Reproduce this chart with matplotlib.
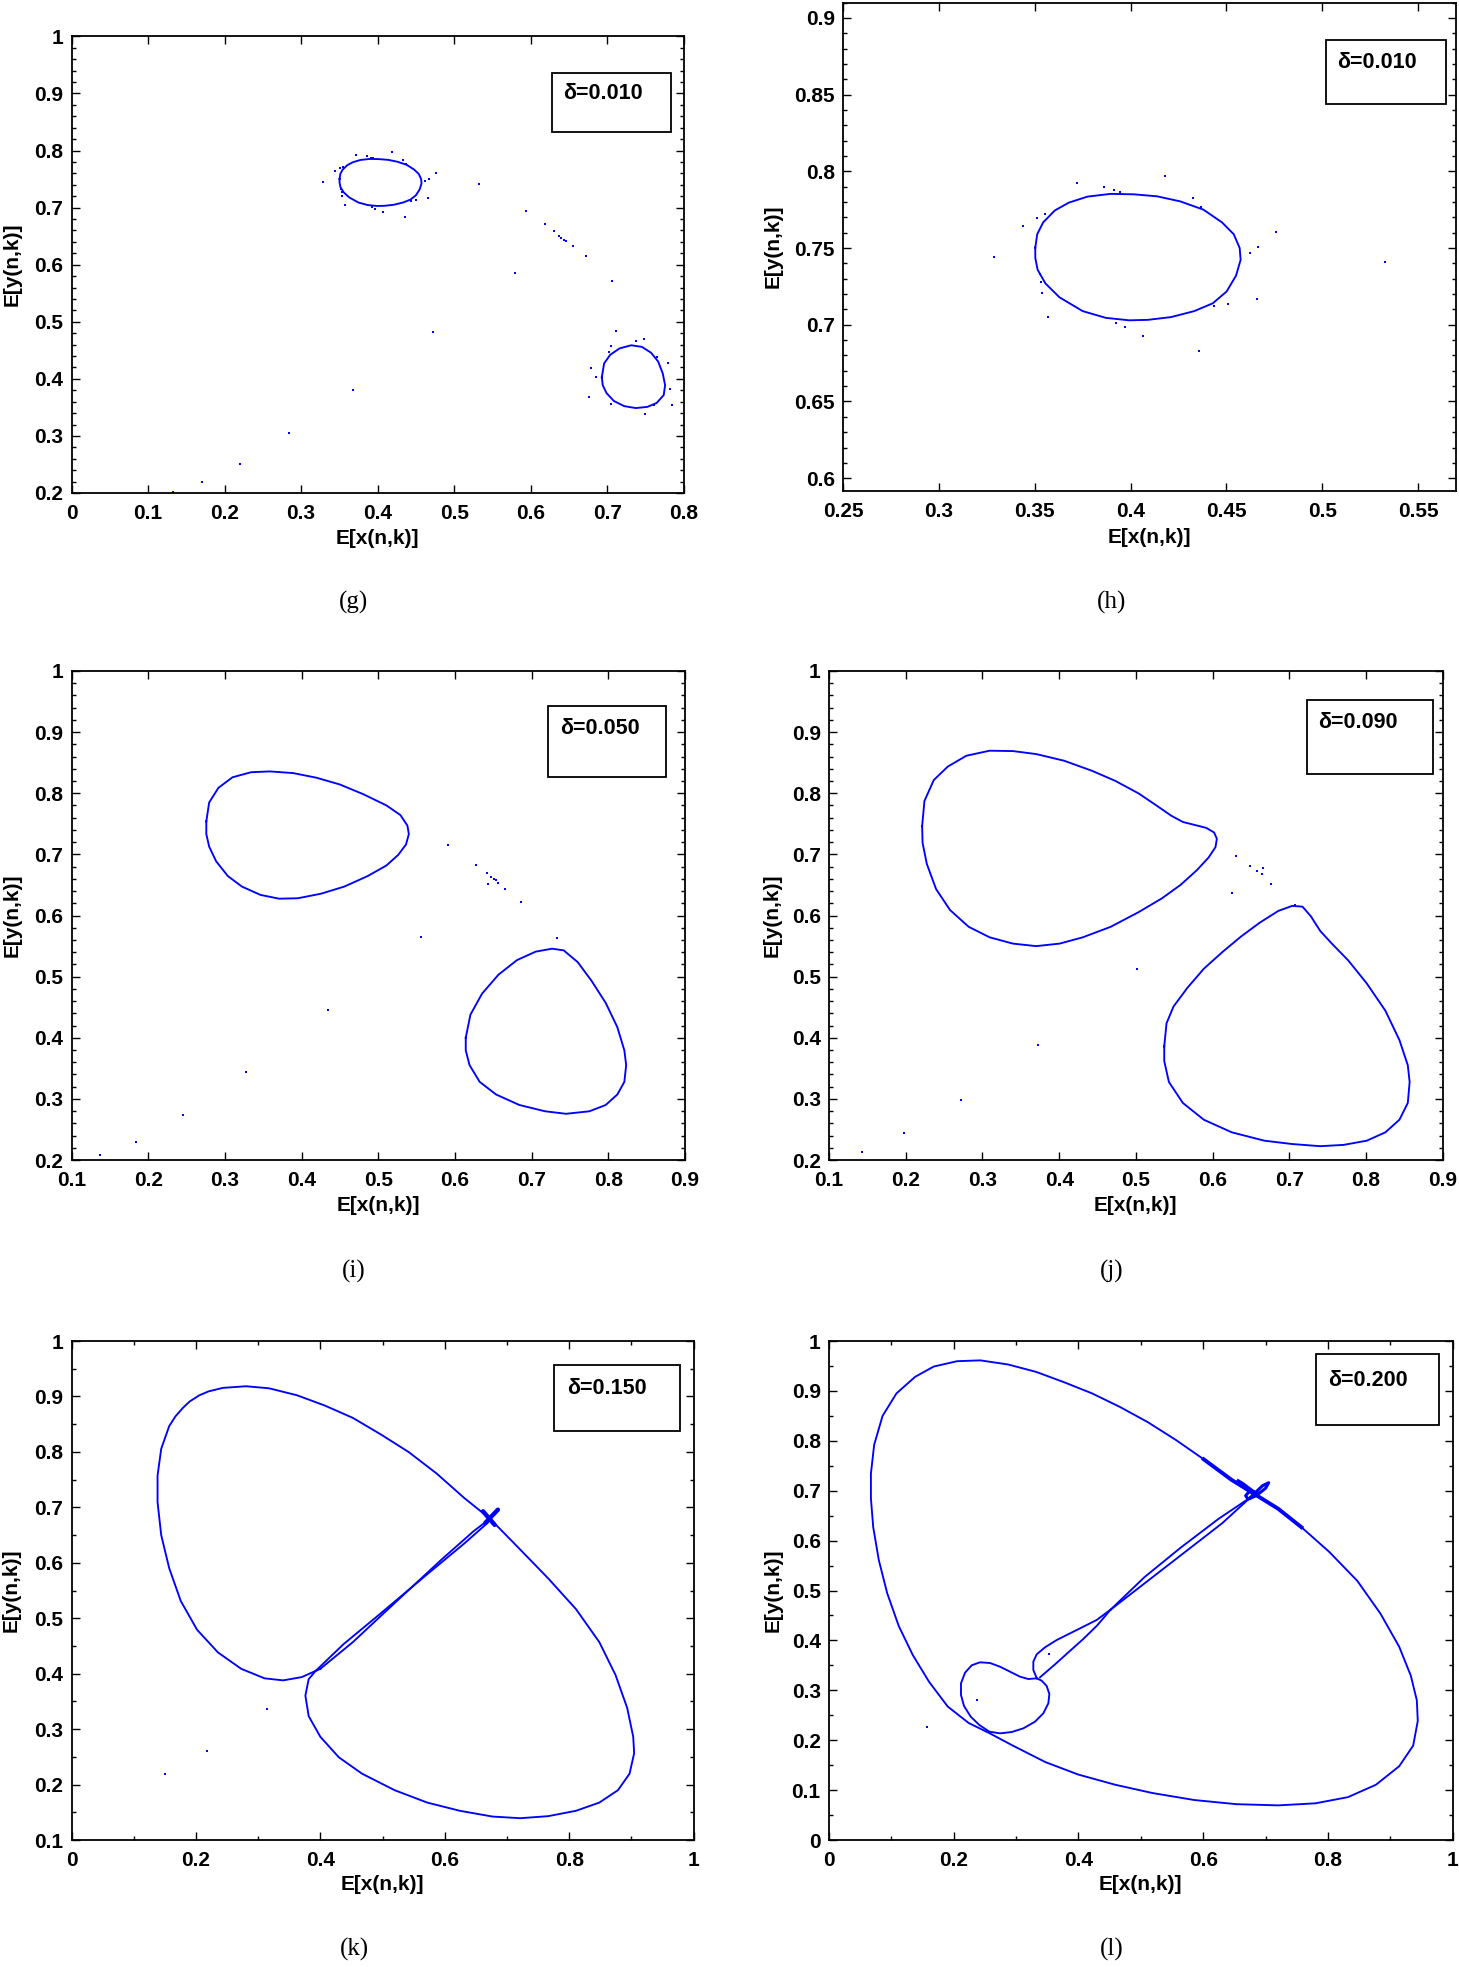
import numpy as np
import matplotlib
matplotlib.use('Agg')
import matplotlib.pyplot as plt
from matplotlib.patches import Rectangle
from matplotlib.ticker import MultipleLocator, FuncFormatter

plt.rcParams['font.family'] = ['Liberation Sans', 'DejaVu Sans']
plt.rcParams['font.weight'] = 'bold'

BLUE = (0, 0, 1)

# ---- delta = 0.010 (panels g and h show the same orbit) ----
d010_loop1 = [(0.3503, 0.7503), (0.3513, 0.7590), (0.3544, 0.7667), (0.3605, 0.7745),
              (0.3678, 0.7796), (0.3775, 0.7835), (0.3896, 0.7853), (0.4017, 0.7850),
              (0.4138, 0.7837), (0.4259, 0.7804), (0.4380, 0.7750), (0.4477, 0.7667),
              (0.4538, 0.7590), (0.4569, 0.7500), (0.4574, 0.7423), (0.4550, 0.7320),
              (0.4501, 0.7217), (0.4429, 0.7140), (0.4332, 0.7089), (0.4211, 0.7050),
              (0.4090, 0.7032), (0.3993, 0.7029), (0.3871, 0.7045), (0.3750, 0.7089),
              (0.3629, 0.7179), (0.3556, 0.7269), (0.3515, 0.7359), (0.3503, 0.7436)]
d010_loop2 = [(0.6930, 0.4028), (0.6960, 0.4270), (0.7040, 0.4422), (0.7161, 0.4533),
              (0.7313, 0.4588), (0.7453, 0.4561), (0.7574, 0.4457), (0.7666, 0.4304),
              (0.7726, 0.4097), (0.7757, 0.3889), (0.7739, 0.3716), (0.7647, 0.3578),
              (0.7526, 0.3509), (0.7374, 0.3488), (0.7222, 0.3522), (0.7088, 0.3612),
              (0.6991, 0.3751), (0.6942, 0.3889)]
d010_dots = [(0.3721, 0.7925), (0.3859, 0.7899), (0.3915, 0.7878), (0.3944, 0.7863),
             (0.4182, 0.7971), (0.4327, 0.7827), (0.4368, 0.7768), (0.4758, 0.7606),
             (0.4666, 0.7508), (0.4623, 0.7469), (0.5325, 0.7410), (0.4659, 0.7171),
             (0.4506, 0.7137), (0.4436, 0.7124), (0.4356, 0.6831), (0.4065, 0.6929),
             (0.3971, 0.6983), (0.3922, 0.7011), (0.3569, 0.7052), (0.3537, 0.7209),
             (0.3532, 0.7276), (0.3527, 0.7333), (0.3440, 0.7644), (0.3513, 0.7693),
             (0.3552, 0.7719), (0.3288, 0.7444),
             (0.7119, 0.4844), (0.7477, 0.4706), (0.7380, 0.4671), (0.7052, 0.4581),
             (0.7027, 0.4478), (0.6784, 0.4187), (0.6857, 0.4028), (0.7647, 0.4388),
             (0.7799, 0.4284), (0.7818, 0.3820), (0.7842, 0.3550), (0.7617, 0.3543),
             (0.7489, 0.3384), (0.7052, 0.3564), (0.6766, 0.3682),
             (0.1325, 0.2014), (0.1708, 0.2194), (0.2207, 0.2512), (0.2845, 0.3045),
             (0.3684, 0.3806), (0.4729, 0.4817), (0.5933, 0.6948), (0.6188, 0.6706),
             (0.6310, 0.6588), (0.6371, 0.6505), (0.6401, 0.6471), (0.6432, 0.6429),
             (0.6462, 0.6415), (0.6553, 0.6325), (0.6723, 0.6152), (0.5793, 0.5862),
             (0.7058, 0.5723)]

# ---- delta = 0.050 ----
d050_loop1 = [(0.2758, 0.7540), (0.2795, 0.7849), (0.2916, 0.8089), (0.3099, 0.8261),
              (0.3342, 0.8344), (0.3586, 0.8357), (0.3890, 0.8330), (0.4194, 0.8254),
              (0.4498, 0.8144), (0.4802, 0.7986), (0.5106, 0.7801), (0.5289, 0.7643),
              (0.5380, 0.7471), (0.5399, 0.7333), (0.5362, 0.7162), (0.5259, 0.6990),
              (0.5106, 0.6818), (0.4863, 0.6646), (0.4559, 0.6474), (0.4255, 0.6357),
              (0.3951, 0.6282), (0.3707, 0.6275), (0.3464, 0.6337), (0.3221, 0.6474),
              (0.3038, 0.6646), (0.2886, 0.6887), (0.2795, 0.7127), (0.2758, 0.7333)]
d050_loop2 = [(0.6141, 0.4000), (0.6202, 0.4378), (0.6354, 0.4722), (0.6567, 0.5031),
              (0.6810, 0.5271), (0.7053, 0.5409), (0.7266, 0.5457), (0.7418, 0.5430),
              (0.7601, 0.5237), (0.7783, 0.4928), (0.7966, 0.4570), (0.8118, 0.4172),
              (0.8209, 0.3794), (0.8233, 0.3553), (0.8209, 0.3278), (0.8118, 0.3072),
              (0.7966, 0.2900), (0.7753, 0.2797), (0.7449, 0.2756), (0.7175, 0.2797),
              (0.6840, 0.2900), (0.6536, 0.3072), (0.6323, 0.3278), (0.6190, 0.3553),
              (0.6141, 0.3794)]
d050_dots = [(0.1371, 0.2076), (0.1840, 0.2302), (0.2460, 0.2742), (0.3275, 0.3443),
             (0.4346, 0.4460), (0.5563, 0.5656), (0.5916, 0.7148), (0.6275, 0.6825),
             (0.6415, 0.6701), (0.6475, 0.6632), (0.6506, 0.6598), (0.6536, 0.6577),
             (0.6567, 0.6529), (0.6433, 0.6522), (0.6658, 0.6440), (0.6859, 0.6220),
             (0.7333, 0.5636)]

# ---- delta = 0.090 ----
d090_loop1 = [(0.2214, 0.7461), (0.2244, 0.7873), (0.2366, 0.8216), (0.2548, 0.8436),
              (0.2791, 0.8614), (0.3094, 0.8696), (0.3398, 0.8690), (0.3701, 0.8641),
              (0.4065, 0.8532), (0.4429, 0.8367), (0.4733, 0.8202), (0.5036, 0.7997),
              (0.5279, 0.7791), (0.5461, 0.7633), (0.5613, 0.7530), (0.5765, 0.7482),
              (0.5917, 0.7434), (0.6020, 0.7358), (0.6056, 0.7256), (0.6038, 0.7118),
              (0.5947, 0.6947), (0.5795, 0.6741), (0.5583, 0.6501), (0.5340, 0.6281),
              (0.5036, 0.6055), (0.4672, 0.5815), (0.4308, 0.5643), (0.4005, 0.5540),
              (0.3701, 0.5499), (0.3398, 0.5540), (0.3094, 0.5643), (0.2821, 0.5815),
              (0.2578, 0.6089), (0.2396, 0.6432), (0.2275, 0.6844), (0.2220, 0.7187)]
d090_loop2 = [(0.5370, 0.3859), (0.5400, 0.4237), (0.5491, 0.4511), (0.5674, 0.4820),
              (0.5886, 0.5129), (0.6129, 0.5403), (0.6372, 0.5657), (0.6615, 0.5883),
              (0.6857, 0.6075), (0.7039, 0.6158), (0.7173, 0.6144), (0.7282, 0.5986),
              (0.7404, 0.5746), (0.7555, 0.5540), (0.7768, 0.5266), (0.8010, 0.4889),
              (0.8253, 0.4442), (0.8436, 0.3962), (0.8545, 0.3551), (0.8569, 0.3276),
              (0.8545, 0.2933), (0.8436, 0.2659), (0.8253, 0.2453), (0.8010, 0.2316),
              (0.7707, 0.2247), (0.7404, 0.2226), (0.7039, 0.2261), (0.6675, 0.2316),
              (0.6250, 0.2453), (0.5886, 0.2659), (0.5613, 0.2933), (0.5431, 0.3276),
              (0.5370, 0.3619)]
d090_dots = [(0.1425, 0.2123), (0.1977, 0.2439), (0.2718, 0.2988), (0.3725, 0.3880),
             (0.5018, 0.5129), (0.6311, 0.6981), (0.6493, 0.6803), (0.6584, 0.6720),
             (0.6645, 0.6672), (0.6663, 0.6775), (0.6766, 0.6521), (0.6250, 0.6364),
             (0.7070, 0.6171)]

# ---- delta = 0.150 ----
d150_upper = [(0.6726, 0.6795), (0.6315, 0.7166), (0.5867, 0.7611), (0.5419, 0.7997),
              (0.4970, 0.8316), (0.4522, 0.8613), (0.4073, 0.8835), (0.3625, 0.9021),
              (0.3176, 0.9147), (0.2803, 0.9184), (0.2429, 0.9154), (0.2200, 0.9090),
              (0.2055, 0.9021), (0.1900, 0.8910), (0.1794, 0.8798), (0.1670, 0.8640),
              (0.1570, 0.8464), (0.1442, 0.8056), (0.1383, 0.7574),
              (0.1383, 0.7092), (0.1442, 0.6498), (0.1570, 0.5904), (0.1756, 0.5311),
              (0.2018, 0.4792), (0.2354, 0.4383), (0.2728, 0.4087), (0.3102, 0.3916),
              (0.3401, 0.3879), (0.3700, 0.3938), (0.3999, 0.4087)]
d150_diag_a = [(0.3999, 0.4087), (0.4522, 0.4569), (0.5194, 0.5274), (0.5942, 0.6053),
               (0.6465, 0.6572), (0.6726, 0.6795)]
d150_lower = [(0.6726, 0.6795), (0.7212, 0.6238), (0.7661, 0.5719), (0.8109, 0.5163),
              (0.8483, 0.4569), (0.8744, 0.3975), (0.8931, 0.3382), (0.9028, 0.2862),
              (0.9043, 0.2566), (0.8969, 0.2195), (0.8782, 0.1898), (0.8483, 0.1675),
              (0.8109, 0.1527), (0.7661, 0.1430), (0.7212, 0.1393), (0.6764, 0.1423),
              (0.6241, 0.1527), (0.5717, 0.1675), (0.5194, 0.1898), (0.4671, 0.2195),
              (0.4297, 0.2491), (0.3999, 0.2862), (0.3812, 0.3234), (0.3759, 0.3604),
              (0.3812, 0.3901), (0.3924, 0.4050)]
d150_diag_b = [(0.3924, 0.4050), (0.4372, 0.4532), (0.4970, 0.5088), (0.5717, 0.5793),
               (0.6315, 0.6350), (0.6689, 0.6721), (0.6726, 0.6795)]
d150_cross = [[(0.6614, 0.6928), (0.6801, 0.6684)], [(0.6652, 0.6721), (0.6853, 0.6958)]]
d150_dots = [(0.1495, 0.2195), (0.2182, 0.2610), (0.3146, 0.3367)]

# ---- delta = 0.200 ----
d200_outer = [(0.6828, 0.6928), (0.6455, 0.7217), (0.6007, 0.7630), (0.5560, 0.8018),
              (0.5112, 0.8373), (0.4664, 0.8679), (0.4216, 0.8951), (0.3769, 0.9174),
              (0.3321, 0.9381), (0.2873, 0.9529), (0.2425, 0.9612), (0.2052, 0.9595),
              (0.1679, 0.9488), (0.1381, 0.9282), (0.1082, 0.8951), (0.0858, 0.8497),
              (0.0724, 0.7919), (0.0672, 0.7341), (0.0672, 0.6846), (0.0709, 0.6268),
              (0.0799, 0.5607), (0.0933, 0.4946), (0.1119, 0.4286), (0.1343, 0.3708),
              (0.1604, 0.3171), (0.1903, 0.2675), (0.2239, 0.2345), (0.2575, 0.2139),
              (0.2948, 0.1891), (0.3470, 0.1561), (0.3993, 0.1313), (0.4590, 0.1107),
              (0.5187, 0.0941), (0.5858, 0.0801), (0.6530, 0.0718), (0.7201, 0.0694),
              (0.7799, 0.0735), (0.8321, 0.0859), (0.8769, 0.1107), (0.9142, 0.1478),
              (0.9366, 0.1891), (0.9440, 0.2386), (0.9425, 0.2799), (0.9328, 0.3295),
              (0.9142, 0.3873), (0.8843, 0.4534), (0.8470, 0.5194), (0.8022, 0.5772),
              (0.7575, 0.6268), (0.7201, 0.6639), (0.6828, 0.6928)]
d200_band = [(0.6007, 0.7630), (0.6455, 0.7217), (0.6828, 0.6928), (0.7201, 0.6639),
             (0.7575, 0.6268)]
d200_kidney = [(0.3330, 0.3240), (0.3196, 0.3226), (0.3062, 0.3273), (0.2902, 0.3373),
               (0.2742, 0.3473), (0.2581, 0.3547), (0.2421, 0.3561), (0.2288, 0.3501),
               (0.2181, 0.3353), (0.2116, 0.3140), (0.2116, 0.2906), (0.2165, 0.2685),
               (0.2272, 0.2472), (0.2410, 0.2305), (0.2571, 0.2171), (0.2742, 0.2137),
               (0.2929, 0.2164), (0.3116, 0.2238), (0.3303, 0.2371), (0.3436, 0.2538),
               (0.3517, 0.2739), (0.3533, 0.2926), (0.3490, 0.3086), (0.3410, 0.3193),
               (0.3330, 0.3240)]
d200_tear_up = [(0.3330, 0.3246), (0.3276, 0.3407), (0.3276, 0.3574), (0.3330, 0.3721),
                (0.3463, 0.3861), (0.3651, 0.4008), (0.3864, 0.4141), (0.4078, 0.4275),
                (0.4292, 0.4409), (0.4515, 0.4616)]
d200_tear_low = [(0.3383, 0.3260), (0.3624, 0.3520), (0.3864, 0.3790), (0.4078, 0.4030),
                 (0.4300, 0.4300), (0.4515, 0.4616)]
d200_diag_a = [(0.4515, 0.4616), (0.5112, 0.5194), (0.5709, 0.5772), (0.6306, 0.6350),
               (0.6754, 0.6862)]
d200_diag_b = [(0.4515, 0.4616), (0.5060, 0.5270), (0.5650, 0.5870), (0.6250, 0.6440),
               (0.6754, 0.6862)]
d200_curl = [(0.6754, 0.6862), (0.6950, 0.7100), (0.7050, 0.7160), (0.7000, 0.7050),
             (0.6850, 0.6900), (0.6720, 0.6830), (0.6680, 0.6900), (0.6750, 0.7000),
             (0.6820, 0.6970), (0.6640, 0.7140), (0.6560, 0.7200)]
d200_dots = [(0.1567, 0.2263), (0.2368, 0.2806), (0.3527, 0.3734)]


def xy(pts, close=False):
    a = np.array(pts)
    if close:
        a = np.vstack([a, a[:1]])
    return a[:, 0], a[:, 1]


W, H = 1459, 1967
fig = plt.figure(figsize=(W / 100, H / 100), dpi=100)


def make_axes(px_left, px_bottom, px_w, px_h):
    return fig.add_axes([px_left / W, 1 - px_bottom / H, px_w / W, px_h / H])


def style(ax, xlim, ylim, xmaj, ymaj, xmin, ymin, ylab_x, xlab_y):
    ax.set_xlim(*xlim)
    ax.set_ylim(*ylim)
    ax.xaxis.set_major_locator(MultipleLocator(xmaj))
    ax.yaxis.set_major_locator(MultipleLocator(ymaj))
    if xmin:
        ax.xaxis.set_minor_locator(MultipleLocator(xmin))
    if ymin:
        ax.yaxis.set_minor_locator(MultipleLocator(ymin))
    fmt = FuncFormatter(lambda v, p: f"{round(v, 4):g}")
    ax.xaxis.set_major_formatter(fmt)
    ax.yaxis.set_major_formatter(fmt)
    ax.tick_params(which='both', direction='in', top=True, right=True,
                   labelsize=15, width=1.0)
    ax.tick_params(which='major', length=6)
    ax.tick_params(which='minor', length=3)
    ax.tick_params(axis='x', which='major', pad=8)
    ax.tick_params(axis='y', which='major', pad=6)
    for s in ax.spines.values():
        s.set_linewidth(1.3)
    ax.set_xlabel('E[x(n,k)]', fontsize=15, fontweight='bold')
    ax.set_ylabel('E[y(n,k)]', fontsize=15, fontweight='bold')
    ax.yaxis.set_label_coords(ylab_x, 0.5)
    ax.xaxis.set_label_coords(0.5, xlab_y)


def legend_box(ax, box, txt_xy, label):
    x0, x1, y0, y1 = box
    ax.add_patch(Rectangle((x0, y0), x1 - x0, y1 - y0, transform=ax.transAxes,
                           facecolor='white', edgecolor='black', lw=1.3, zorder=5))
    ax.text(txt_xy[0], txt_xy[1], label, transform=ax.transAxes, fontsize=15.5,
            fontweight='bold', va='center', ha='left', zorder=6)


def caption(px_x, px_y, s):
    fig.text(px_x / W, 1 - px_y / H, s, ha='center', va='center', fontsize=18,
             family='Liberation Serif', fontweight='normal')


LW = 1.35
MS = 2.0

# (g)
ax = make_axes(71.5, 493, 612.2, 456.6)
ax.plot(*xy(d010_loop1, True), color=BLUE, lw=LW)
ax.plot(*xy(d010_loop2, True), color=BLUE, lw=LW)
ax.plot(*xy(d010_dots), 's', color=BLUE, ms=MS, mew=0)
style(ax, (0, 0.8), (0.2, 1.0), 0.1, 0.1, None, 0.02, -0.082, -0.079)
legend_box(ax, (0.785, 0.98, 0.79, 0.92), (0.803, 0.874), 'δ=0.010')
caption(354, 602, '(g)')

# (h)
ax = make_axes(843, 490.5, 613.5, 488)
ax.plot(*xy(d010_loop1, True), color=BLUE, lw=LW)
ax.plot(*xy(d010_dots), 's', color=BLUE, ms=MS, mew=0)
style(ax, (0.25, 0.57), (0.592, 0.91), 0.05, 0.05, None, 0.01, -0.099, -0.077)
legend_box(ax, (0.787, 0.983, 0.792, 0.923), (0.805, 0.878), 'δ=0.010')
caption(1111.5, 602, '(h)')

# (i)
ax = make_axes(71.5, 1160, 613.5, 489)
ax.plot(*xy(d050_loop1, True), color=BLUE, lw=LW)
ax.plot(*xy(d050_loop2, True), color=BLUE, lw=LW)
ax.plot(*xy(d050_dots), 's', color=BLUE, ms=MS, mew=0)
style(ax, (0.1, 0.9), (0.2, 1.0), 0.1, 0.1, None, 0.02, -0.082, -0.073)
legend_box(ax, (0.777, 0.969, 0.783, 0.928), (0.796, 0.883), 'δ=0.050')
caption(354, 1271, '(i)')

# (j)
ax = make_axes(829, 1160, 613.7, 489)
ax.plot(*xy(d090_loop1, True), color=BLUE, lw=LW)
ax.plot(*xy(d090_loop2, True), color=BLUE, lw=LW)
ax.plot(*xy(d090_dots), 's', color=BLUE, ms=MS, mew=0)
style(ax, (0.1, 0.9), (0.2, 1.0), 0.1, 0.1, None, 0.02, -0.077, -0.073)
legend_box(ax, (0.779, 0.984, 0.789, 0.941), (0.797, 0.894), 'δ=0.090')
caption(1111.5, 1271, '(j)')

# (k)
ax = make_axes(71.5, 1840, 622.2, 499)
for seg in (d150_upper, d150_diag_a, d150_lower, d150_diag_b):
    ax.plot(*xy(seg), color=BLUE, lw=LW)
for seg in d150_cross:
    ax.plot(*xy(seg), color=BLUE, lw=3.2, solid_capstyle='round')
ax.plot(*xy(d150_dots), 's', color=BLUE, ms=MS, mew=0)
style(ax, (0, 1), (0.1, 1.0), 0.2, 0.1, 0.1, 0.05, -0.081, -0.071)
legend_box(ax, (0.775, 0.978, 0.820, 0.952), (0.796, 0.904), 'δ=0.150')
caption(354, 1949.5, '(k)')

# (l)
ax = make_axes(829, 1840, 623.7, 499)
ax.plot(*xy(d200_outer), color=BLUE, lw=LW)
ax.plot(*xy(d200_band), color=BLUE, lw=2.8)
ax.plot(*xy(d200_kidney), color=BLUE, lw=LW)
for seg in (d200_tear_up, d200_tear_low, d200_diag_a, d200_diag_b):
    ax.plot(*xy(seg), color=BLUE, lw=LW)
ax.plot(*xy(d200_curl), color=BLUE, lw=2.2)
ax.plot(*xy(d200_dots), 's', color=BLUE, ms=MS, mew=0)
style(ax, (0, 1), (0, 1), 0.2, 0.1, 0.1, 0.05, -0.075, -0.071)
legend_box(ax, (0.781, 0.978, 0.832, 0.974), (0.800, 0.920), 'δ=0.200')
caption(1111.5, 1949.5, '(l)')

fig.savefig('out.png', dpi=100)
